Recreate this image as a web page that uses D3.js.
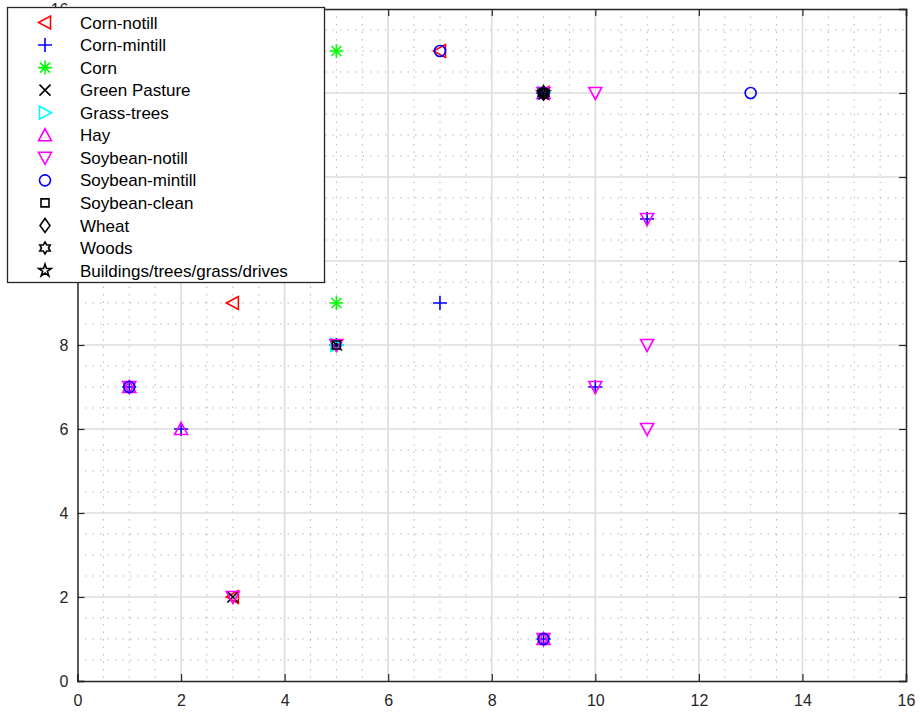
<!DOCTYPE html>
<html><head><meta charset="utf-8">
<script src="https://cdn.jsdelivr.net/npm/d3@7"></script>
<style>body{margin:0;background:#fff}svg{display:block}</style>
</head><body>
<svg id="chart" width="920" height="713"></svg>
<script>
// ---- data ----
const classNames = ["Corn-notill","Corn-mintill","Corn","Green Pasture","Grass-trees","Hay",
  "Soybean-notill","Soybean-mintill","Soybean-clean","Wheat","Woods","Buildings/trees/grass/drives"];
const cornNotill     = [[3,9],[7,15],[9,14],[3,2]];
const cornMintill    = [[7,9],[11,11],[10,7],[2,6],[1,7],[9,1],[5,8],[9,14]];
const corn           = [[5,15],[5,9]];
const greenPasture   = [[3,2],[9,14],[5,8]];
const grassTrees     = [[9,14],[5,8]];
const hay            = [[2,6],[1,7],[9,1],[9,14]];
const soybeanNotill  = [[10,14],[11,11],[10,7],[11,8],[11,6],[1,7],[9,1],[3,2],[5,8],[9,14]];
const soybeanMintill = [[7,15],[13,14],[1,7],[9,1],[9,14]];
const soybeanClean   = [[9,14],[5,8]];
const wheat          = [[9,14]];
const woods          = [[9,14]];
const buildings      = [[9,14]];
const seriesData = [cornNotill,cornMintill,corn,greenPasture,grassTrees,hay,
  soybeanNotill,soybeanMintill,soybeanClean,wheat,woods,buildings];
const xTicks = [0,2,4,6,8,10,12,14,16];
const yTicks = [0,2,4,6,8,10,12,14,16];

// ---- styles ----
const markerShapes = ["tri-left","plus","asterisk","x","tri-right","tri-up","tri-down","circle","square","diamond","hexagram","pentagram"];
const markerColors = ["#ff0000","#0000ff","#00ff00","#000000","#00ffff","#ff00ff","#ff00ff","#0000ff","#000000","#000000","#000000","#000000"];

function markerPath(shape){
  const s = 6.5;
  switch(shape){
    case "tri-left":  return `M${-s},0L${s*0.85},${-s}L${s*0.85},${s}Z`;
    case "tri-right": return `M${s},0L${-s*0.85},${-s}L${-s*0.85},${s}Z`;
    case "tri-up":    return `M0,${-s}L${s},${s*0.85}L${-s},${s*0.85}Z`;
    case "tri-down":  return `M0,${s}L${s},${-s*0.85}L${-s},${-s*0.85}Z`;
    case "plus":      return `M${-7},0L7,0M0,-7L0,7`;
    case "x":         return `M-5.5,-5.5L5.5,5.5M-5.5,5.5L5.5,-5.5`;
    case "asterisk":  return `M-7,0L7,0M0,-7L0,7M-5,-5L5,5M-5,5L5,-5`;
    case "circle":    return `M5.5,0A5.5,5.5 0 1,1 -5.5,0A5.5,5.5 0 1,1 5.5,0Z`;
    case "square":    return `M-4,-4L4,-4L4,4L-4,4Z`;
    case "diamond":   return `M0,-7L5,0L0,7L-5,0Z`;
    case "hexagram": {
      const r = 6, pts=[];
      for(let i=0;i<12;i++){const a=-Math.PI/2+i*Math.PI/6;const rr=i%2?r*0.577:r;pts.push([rr*Math.cos(a),rr*Math.sin(a)]);}
      return "M"+pts.map(p=>p[0].toFixed(2)+","+p[1].toFixed(2)).join("L")+"Z";
    }
    case "pentagram": {
      const r = 6.5, pts=[];
      for(let i=0;i<10;i++){const a=-Math.PI/2+i*Math.PI/5;const rr=i%2?r*0.382:r;pts.push([rr*Math.cos(a),rr*Math.sin(a)]);}
      return "M"+pts.map(p=>p[0].toFixed(2)+","+p[1].toFixed(2)).join("L")+"Z";
    }
  }
}

const svg = d3.select("#chart");
const pLeft=77.5, pRight=906, pTop=9, pBottom=681;
const x = d3.scaleLinear().domain([0,16]).range([pLeft,pRight]);
const y = d3.scaleLinear().domain([0,16]).range([pBottom,pTop]);
const axisColor = "#262626";

// minor grid (dotted)
const minorVals = d3.range(0.5,16,0.5).filter(v=>v%2!==0);
svg.append("g").selectAll("line").data(minorVals).join("line")
  .attr("x1",d=>x(d)).attr("x2",d=>x(d)).attr("y1",pTop).attr("y2",pBottom)
  .attr("stroke","#b8b8b8").attr("stroke-width",1).attr("stroke-dasharray","1.5,6");
svg.append("g").selectAll("line").data(minorVals).join("line")
  .attr("y1",d=>y(d)).attr("y2",d=>y(d)).attr("x1",pLeft).attr("x2",pRight)
  .attr("stroke","#b8b8b8").attr("stroke-width",1).attr("stroke-dasharray","1.5,6");
// major grid
svg.append("g").selectAll("line").data(xTicks.slice(1,-1)).join("line")
  .attr("x1",d=>x(d)).attr("x2",d=>x(d)).attr("y1",pTop).attr("y2",pBottom)
  .attr("stroke","#dcdcdc").attr("stroke-width",1.6);
svg.append("g").selectAll("line").data(yTicks.slice(1,-1)).join("line")
  .attr("y1",d=>y(d)).attr("y2",d=>y(d)).attr("x1",pLeft).attr("x2",pRight)
  .attr("stroke","#dcdcdc").attr("stroke-width",1.6);

// axes
const fontFam = "'Liberation Sans', Arial, sans-serif";
const xAxis = svg.append("g").attr("transform",`translate(0,${pBottom})`)
  .call(d3.axisBottom(x).tickValues(xTicks).tickSize(-7).tickPadding(14).tickFormat(d3.format("d")));
const yAxis = svg.append("g").attr("transform",`translate(${pLeft},0)`)
  .call(d3.axisLeft(y).tickValues(yTicks).tickSize(-7).tickPadding(9).tickFormat(d3.format("d")));
const xAxisTop = svg.append("g").attr("transform",`translate(0,${pTop})`)
  .call(d3.axisTop(x).tickValues(xTicks).tickSize(-7).tickFormat(""));
const yAxisRight = svg.append("g").attr("transform",`translate(${pRight},0)`)
  .call(d3.axisRight(y).tickValues(yTicks).tickSize(-7).tickFormat(""));
[xAxis,yAxis,xAxisTop,yAxisRight].forEach(g=>{
  g.select(".domain").attr("stroke",axisColor).attr("stroke-width",1.5);
  g.selectAll(".tick line").attr("stroke",axisColor).attr("stroke-width",1.2);
  g.selectAll(".tick text").attr("fill",axisColor).attr("font-size",16).attr("font-family",fontFam);
});

// markers
seriesData.forEach((pts,i)=>{
  svg.append("g").selectAll("path").data(pts).join("path")
    .attr("transform",d=>`translate(${x(d[0])},${y(d[1])})`)
    .attr("d",markerPath(markerShapes[i]))
    .attr("fill","none").attr("stroke",markerColors[i]).attr("stroke-width",1.6)
    .attr("stroke-linejoin","miter");
});

// legend
const lg = svg.append("g");
lg.append("rect").attr("x",7.5).attr("y",7.5).attr("width",317).attr("height",275)
  .attr("fill","#fff").attr("stroke",axisColor).attr("stroke-width",1.3);
classNames.forEach((name,i)=>{
  const cy = 22.5 + i*22.55;
  lg.append("path").attr("transform",`translate(45,${cy})`).attr("d",markerPath(markerShapes[i]))
    .attr("fill","none").attr("stroke",markerColors[i]).attr("stroke-width",1.6);
  lg.append("text").attr("x",80).attr("y",cy).attr("dy","0.36em")
    .attr("font-size",17).attr("font-family",fontFam).attr("fill","#000").text(name);
});
</script>
</body></html>
